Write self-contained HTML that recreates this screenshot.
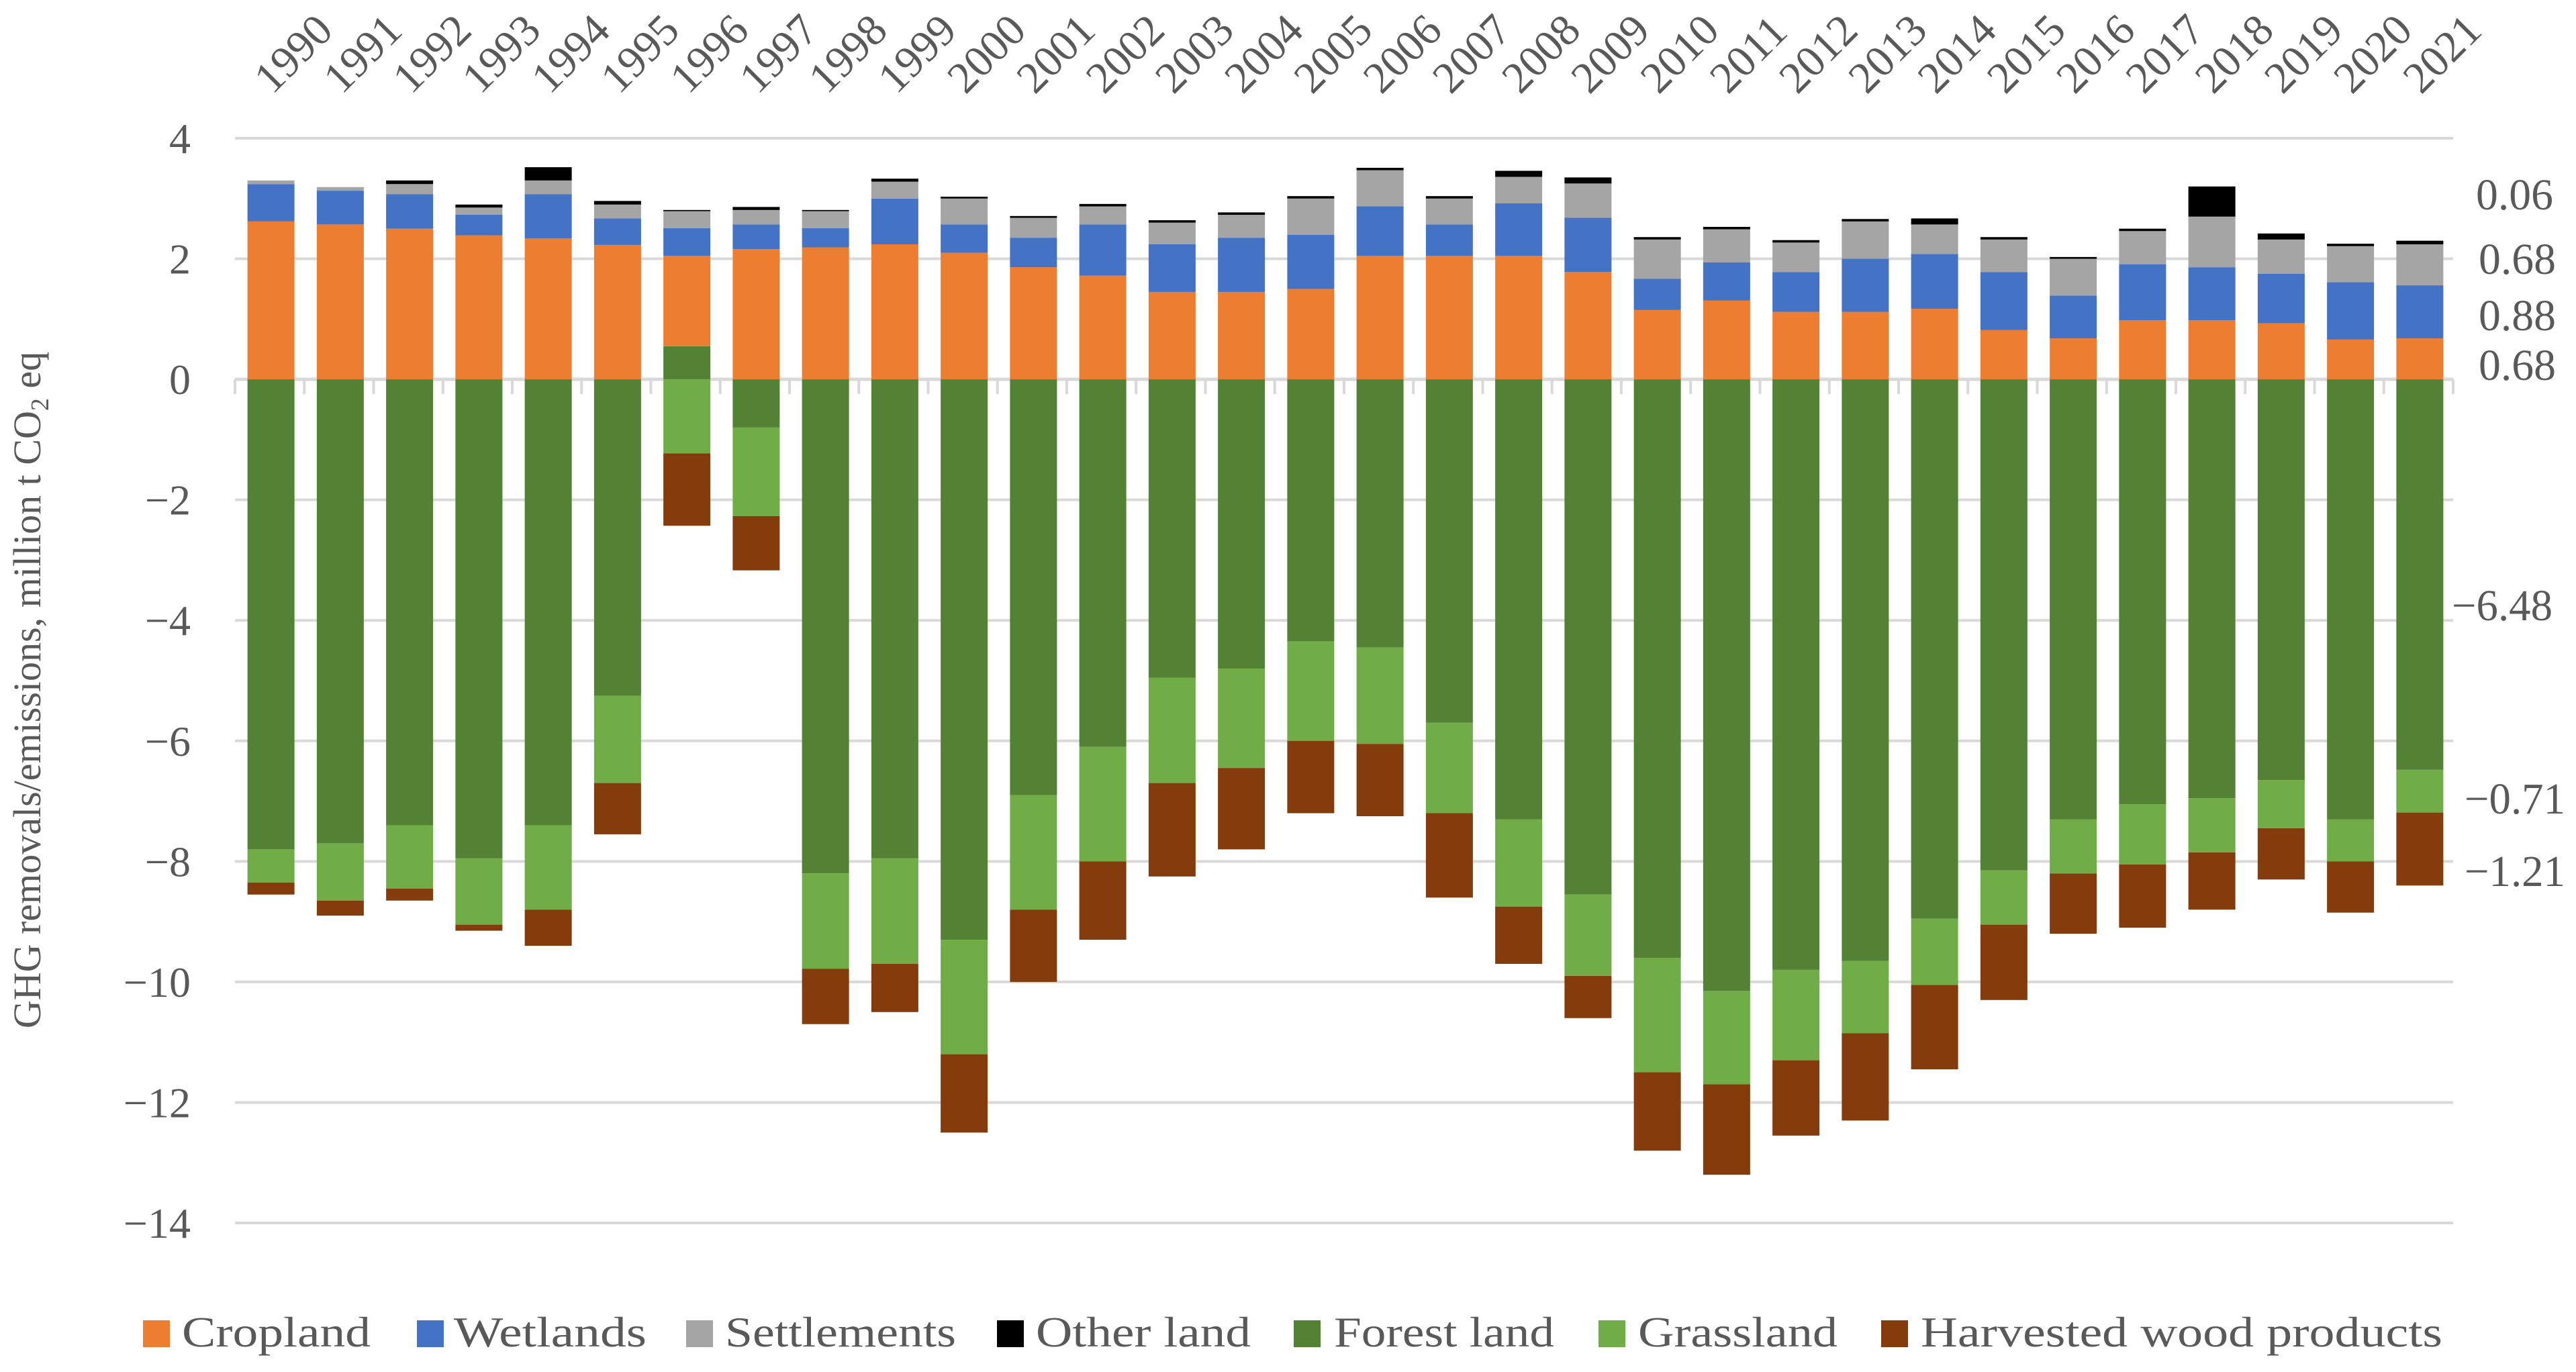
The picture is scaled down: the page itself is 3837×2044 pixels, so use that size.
<!DOCTYPE html>
<html><head><meta charset="utf-8"><style>
html,body{margin:0;padding:0;background:#fff;}
svg{display:block;font-family:"Liberation Serif",serif;}
</style></head><body>
<svg id="chart" width="3837" height="2044" viewBox="0 0 3837 2044" xmlns="http://www.w3.org/2000/svg">
<g id="grid"></g>
<g id="bars"></g>
<g id="axis"></g>
<text x="0" y="0" transform="translate(60,1028) rotate(-90)" text-anchor="middle" font-size="58" fill="#595959">GHG removals/emissions, million t CO<tspan font-size="38" dy="12">2</tspan><tspan dy="-12"> eq</tspan></text>
<g font-size="66" fill="#595959" lengthAdjust="spacingAndGlyphs">
<text x="3688" y="312" textLength="115" lengthAdjust="spacingAndGlyphs">0.06</text>
<text x="3692" y="408" textLength="115" lengthAdjust="spacingAndGlyphs">0.68</text>
<text x="3692" y="492" textLength="115" lengthAdjust="spacingAndGlyphs">0.88</text>
<text x="3692" y="566" textLength="115" lengthAdjust="spacingAndGlyphs">0.68</text>
<text x="3652" y="924" textLength="150" lengthAdjust="spacingAndGlyphs">−6.48</text>
<text x="3671" y="1212" textLength="150" lengthAdjust="spacingAndGlyphs">−0.71</text>
<text x="3671" y="1320" textLength="150" lengthAdjust="spacingAndGlyphs">−1.21</text>
</g>
<g id="legend"></g>
</svg>
<script>
const years = ["1990","1991","1992","1993","1994","1995","1996","1997","1998","1999","2000","2001","2002","2003","2004","2005","2006","2007","2008","2009","2010","2011","2012","2013","2014","2015","2016","2017","2018","2019","2020","2021"];
const cropland    = [2.62,2.57,2.50,2.39,2.34,2.23,1.50,2.16,2.19,2.24,2.10,1.86,1.72,1.45,1.45,1.50,2.05,2.05,2.05,1.78,1.15,1.31,1.12,1.12,1.17,0.82,0.68,0.98,0.98,0.93,0.66,0.68];
const wetlands    = [0.62,0.56,0.57,0.34,0.73,0.44,0.46,0.41,0.32,0.76,0.47,0.49,0.85,0.79,0.90,0.90,0.82,0.52,0.87,0.90,0.52,0.63,0.66,0.88,0.91,0.96,0.71,0.93,0.88,0.82,0.95,0.88];
const settlements = [0.06,0.06,0.17,0.12,0.23,0.23,0.28,0.24,0.28,0.28,0.43,0.33,0.30,0.36,0.38,0.60,0.60,0.43,0.44,0.57,0.65,0.55,0.49,0.62,0.49,0.54,0.61,0.55,0.84,0.57,0.60,0.68];
const otherLand   = [0.00,0.00,0.06,0.05,0.22,0.06,0.02,0.05,0.02,0.05,0.03,0.03,0.04,0.04,0.04,0.04,0.04,0.04,0.10,0.10,0.04,0.04,0.04,0.04,0.10,0.04,0.03,0.04,0.50,0.10,0.04,0.06];
const forestLand  = [-7.80,-7.70,-7.40,-7.95,-7.40,-5.25,0.55,-0.80,-8.20,-7.95,-9.30,-6.90,-6.10,-4.95,-4.80,-4.35,-4.45,-5.70,-7.30,-8.55,-9.60,-10.15,-9.80,-9.65,-8.95,-8.15,-7.30,-7.05,-6.95,-6.65,-7.30,-6.48];
const grassland   = [-0.55,-0.95,-1.05,-1.10,-1.40,-1.45,-1.23,-1.47,-1.58,-1.75,-1.90,-1.90,-1.90,-1.75,-1.65,-1.65,-1.60,-1.50,-1.45,-1.35,-1.90,-1.55,-1.50,-1.20,-1.10,-0.90,-0.90,-1.00,-0.90,-0.80,-0.70,-0.71];
const hwp         = [-0.20,-0.25,-0.20,-0.10,-0.60,-0.85,-1.20,-0.90,-0.92,-0.80,-1.30,-1.20,-1.30,-1.55,-1.35,-1.20,-1.20,-1.40,-0.95,-0.70,-1.30,-1.50,-1.25,-1.45,-1.40,-1.25,-1.00,-1.05,-0.95,-0.85,-0.85,-1.21];
const yTicks = [4,2,0,-2,-4,-6,-8,-10,-12,-14];
const seriesNames = ["Cropland","Wetlands","Settlements","Other land","Forest land","Grassland","Harvested wood products"];
const seriesColors = ["#ED7D31","#4472C4","#A5A5A5","#000000","#548235","#70AD47","#843C0C"];

const NS = "http://www.w3.org/2000/svg";
const plotL = 350, plotR = 3654, yTop = 206, yBot = 1822, vMax = 4, vMin = -14;
const band = (plotR - plotL) / years.length, barW = 70;
function yScale(v){ return yTop + (vMax - v) * (yBot - yTop) / (vMax - vMin); }
function xCenter(i){ return plotL + band * (i + 0.5); }
function mk(tag, attrs, parent){ const e = document.createElementNS(NS, tag); for (const k in attrs) e.setAttribute(k, attrs[k]); parent.appendChild(e); return e; }

const grid = document.getElementById('grid');
yTicks.forEach(t => {
  const y = yScale(t);
  const ln = mk('line', {x1: plotL, x2: plotR, y1: y, y2: y, stroke: '#D9D9D9', 'stroke-width': t === 0 ? 5 : 4}, grid);
  
  
  const tx = mk('text', {x: 284, y: y + 22, 'text-anchor': 'end', 'font-size': 64, fill: '#595959'}, grid);
  tx.textContent = t < 0 ? '−' + Math.abs(t) : String(t);
  
  
});

const axis = document.getElementById('axis');
for (let i = 0; i <= years.length; i++) {
  const x = plotL + band * i;
  const tk = mk('line', {x1: x, x2: x, y1: yScale(0), y2: yScale(0) + 22, stroke: '#D9D9D9', 'stroke-width': 4}, axis);
  
  
}
years.forEach((yr, i) => {
  const cx = xCenter(i) + 4;
  const t = mk('text', {x: 0, y: 0, transform: `translate(${cx},142) rotate(-45)`, 'font-size': 66, fill: '#595959'}, axis);
  t.textContent = yr;
  
  
});

const bars = document.getElementById('bars');
const all = [cropland, wetlands, settlements, otherLand, forestLand, grassland, hwp];
years.forEach((yr, i) => {
  let pos = 0, neg = 0;
  const order = forestLand[i] > 0 ? [4,0,1,2,3,5,6] : [0,1,2,3,4,5,6];
  order.forEach(s => {
    const v = all[s][i];
    if (!v) return;
    let a, b;
    if (v > 0) { a = pos; b = pos + v; pos = b; } else { a = neg; b = neg + v; neg = b; }
    const y1 = yScale(Math.max(a, b)), y2 = yScale(Math.min(a, b));
    const r = mk('rect', {x: xCenter(i) - barW/2 + 2, y: y1, width: barW, height: Math.max(0, y2 - y1), fill: seriesColors[s]}, bars);
    
    
  });
});

const legend = document.getElementById('legend');
const legSq = [213, 621, 1022, 1485, 1927, 2381, 2802];
const legTxt = [[271,552],[676,963],[1080,1424],[1543,1863],[1987,2315],[2440,2737],[2861,3638]];
seriesNames.forEach((n, k) => {
  const sq = mk('rect', {x: legSq[k], y: 1967, width: 40, height: 40, fill: seriesColors[k]}, legend);
  
  
  const t = mk('text', {x: legTxt[k][0], y: 2006, 'font-size': 64, fill: '#595959', textLength: legTxt[k][1] - legTxt[k][0], lengthAdjust: 'spacingAndGlyphs'}, legend);
  t.textContent = n;
  
  
});
</script>
</body></html>
